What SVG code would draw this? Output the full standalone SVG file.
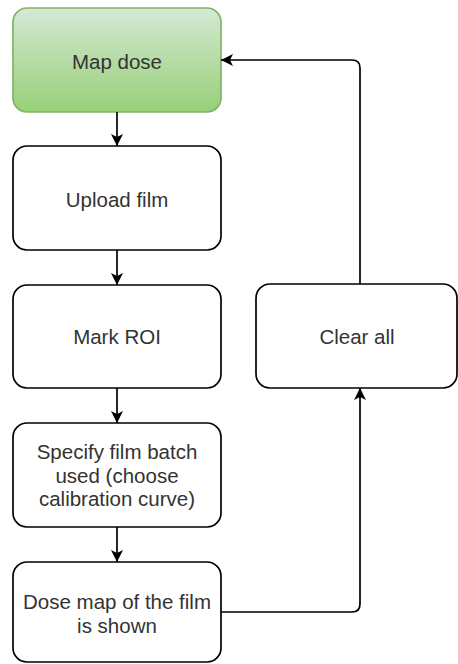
<svg xmlns="http://www.w3.org/2000/svg" width="458" height="664" viewBox="0 0 458 664">
<defs>
<linearGradient id="g" x1="0" y1="0" x2="0" y2="1">
<stop offset="0" stop-color="#d5e8d4"/>
<stop offset="1" stop-color="#97d077"/>
</linearGradient>
<marker id="ah" viewBox="0 0 10 10" refX="10" refY="5" markerWidth="12" markerHeight="12" markerUnits="userSpaceOnUse" orient="auto">
<path d="M0,0 L10,5 L0,10 L2.5,5 Z" fill="#000"/>
</marker>
<style>
.box{fill:#fff;stroke:#000;stroke-width:1.7}
.t{font-family:"Liberation Sans",Arial,sans-serif;font-size:20.5px;fill:#333;text-anchor:middle}
.c{fill:none;stroke:#000;stroke-width:1.7}
</style>
</defs>
<rect width="458" height="664" fill="#fff"/>
<g id="n-map-dose">
<rect x="13" y="8" width="208" height="104" rx="14" fill="url(#g)" stroke="#82b366" stroke-width="1.7"/>
<text class="t" x="117" y="69">Map dose</text>
</g>
<g id="n-upload">
<rect class="box" x="13" y="146" width="208" height="104" rx="14"/>
<text class="t" x="117" y="207">Upload film</text>
</g>
<g id="n-roi">
<rect class="box" x="13" y="285" width="208" height="103" rx="14"/>
<text class="t" x="117" y="344">Mark ROI</text>
</g>
<g id="n-specify">
<rect class="box" x="13" y="423" width="208" height="104" rx="14"/>
<text class="t" x="117" y="459">Specify film batch</text>
<text class="t" x="117" y="483">used (choose</text>
<text class="t" x="117" y="506">calibration curve)</text>
</g>
<g id="n-dosemap">
<rect class="box" x="13" y="562" width="208" height="100" rx="14"/>
<text class="t" x="117" y="609">Dose map of the film</text>
<text class="t" x="117" y="633">is shown</text>
</g>
<g id="n-clear">
<rect class="box" x="256" y="284" width="201" height="104" rx="14"/>
<text class="t" x="357" y="344">Clear all</text>
</g>
<g id="connectors">
<path class="c" d="M117,112 V146" marker-end="url(#ah)"/>
<path class="c" d="M117,250 V285" marker-end="url(#ah)"/>
<path class="c" d="M117,388 V423" marker-end="url(#ah)"/>
<path class="c" d="M117,527 V562" marker-end="url(#ah)"/>
<path class="c" d="M221,612 H352 Q360,612 360,604 V388" marker-end="url(#ah)"/>
<path class="c" d="M360,284 V68 Q360,60 352,60 H221" marker-end="url(#ah)"/>
</g>
</svg>
